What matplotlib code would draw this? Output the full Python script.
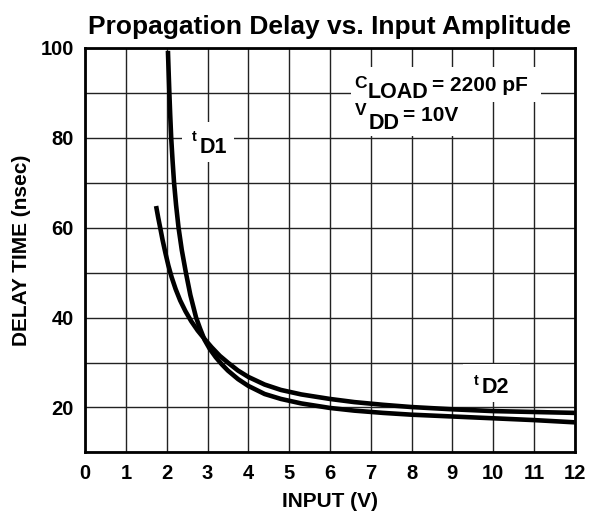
import matplotlib
matplotlib.use("Agg")
import matplotlib.pyplot as plt
from matplotlib.patches import Rectangle

# values
td1_x = [2.03, 2.046, 2.065, 2.086, 2.11, 2.143, 2.18, 2.23, 2.29, 2.37, 2.47, 2.58,
         2.72, 2.82, 2.93, 3.05, 3.20, 3.35, 3.50, 3.75,
         4.0, 4.4, 4.8, 5.3, 6.0, 6.6, 7.3, 8.0, 9.0, 10.0, 11.0, 12.0]
td1_y = [99.3, 95, 90, 85, 80, 75, 70, 65, 60, 55, 50, 45,
         40, 37.5, 35.0, 33.1, 31.2, 29.6, 28.2, 26.3,
         24.8, 23.0, 21.9, 20.9, 19.9, 19.3, 18.8, 18.4, 18.0, 17.6, 17.2, 16.7]

td2_x = [1.74, 1.79, 1.84, 1.90, 1.97, 2.04, 2.12, 2.22, 2.33, 2.46, 2.60, 2.76,
         2.93, 3.10, 3.30, 3.51, 3.75, 4.0, 4.4, 4.8, 5.3, 6.0, 6.6, 7.3, 8.0,
         9.0, 10.0, 11.0, 12.0]
td2_y = [64.8, 62.3, 60, 57.2, 54.3, 51.6, 49, 46.3, 43.8, 41.4, 39.2, 37.1,
         35.2, 33.4, 31.5, 29.9, 28.2, 26.8, 25.1, 23.9, 22.9, 21.9, 21.2, 20.6, 20.1,
         19.6, 19.2, 19.0, 18.8]

x_ticks = list(range(0, 13))
y_ticks = [20, 40, 60, 80, 100]
y_grid = list(range(10, 101, 10))

plt.rcParams["font.family"] = ["Liberation Sans", "DejaVu Sans"]
plt.rcParams["font.weight"] = "bold"

fig = plt.figure(figsize=(5.95, 5.13), dpi=100)
ax = fig.add_axes([0.143, 0.118, 0.823, 0.789])

ax.plot(td1_x, td1_y, color="black", lw=3.3, zorder=3, solid_capstyle="butt")
ax.plot(td2_x, td2_y, color="black", lw=3.3, zorder=3, solid_capstyle="butt")

ax.set_xlim(0, 12)
ax.set_ylim(10, 100)
ax.set_xticks(x_ticks)
ax.set_yticks(y_ticks)
ax.set_yticks(y_grid, minor=True)
ax.tick_params(which="both", length=0, labelsize=14.5, pad=8)
ax.grid(True, which="both", color="#222222", lw=1.0)
ax.set_axisbelow(True)
for s in ax.spines.values():
    s.set_linewidth(2.0)

ax.set_title("Propagation Delay vs. Input Amplitude", fontsize=19,
             fontweight="bold", pad=10)
ax.set_xlabel("INPUT (V)", fontsize=15, fontweight="bold", labelpad=7)
ax.set_ylabel("DELAY TIME (nsec)", fontsize=15, fontweight="bold", labelpad=7)

# white boxes behind the labels, hiding the grid
for (bx, by, bw, bh) in [(2.38, 74.5, 1.27, 8.9), (9.25, 21.2, 1.41, 8.5),
                         (6.52, 87.9, 4.66, 7.8), (6.52, 80.3, 2.92, 7.6)]:
    ax.add_patch(Rectangle((bx, by), bw, bh, facecolor="white",
                           edgecolor="none", zorder=1))

ax.text(2.67, 80.1, "t", fontsize=10.5, ha="center", va="center", zorder=4)
ax.text(3.14, 77.7, "D1", fontsize=15.5, ha="center", va="center", zorder=4)
ax.text(9.58, 25.9, "t", fontsize=10.5, ha="center", va="center", zorder=4)
ax.text(10.05, 24.4, "D2", fontsize=15.5, ha="center", va="center", zorder=4)

ax.text(6.76, 92.1, "C", fontsize=12.5, ha="center", va="center", zorder=4)
ax.text(7.67, 90.0, "LOAD", fontsize=15.5, ha="center", va="center", zorder=4)
ax.text(8.50, 91.6, "= 2200 pF", fontsize=15, ha="left", va="center", zorder=4)
ax.text(6.76, 86.1, "V", fontsize=12.5, ha="center", va="center", zorder=4)
ax.text(7.33, 83.2, "DD", fontsize=15.5, ha="center", va="center", zorder=4)
ax.text(7.79, 84.9, "= 10V", fontsize=15, ha="left", va="center", zorder=4)

fig.savefig("out.png", dpi=100)
plt.close(fig)
